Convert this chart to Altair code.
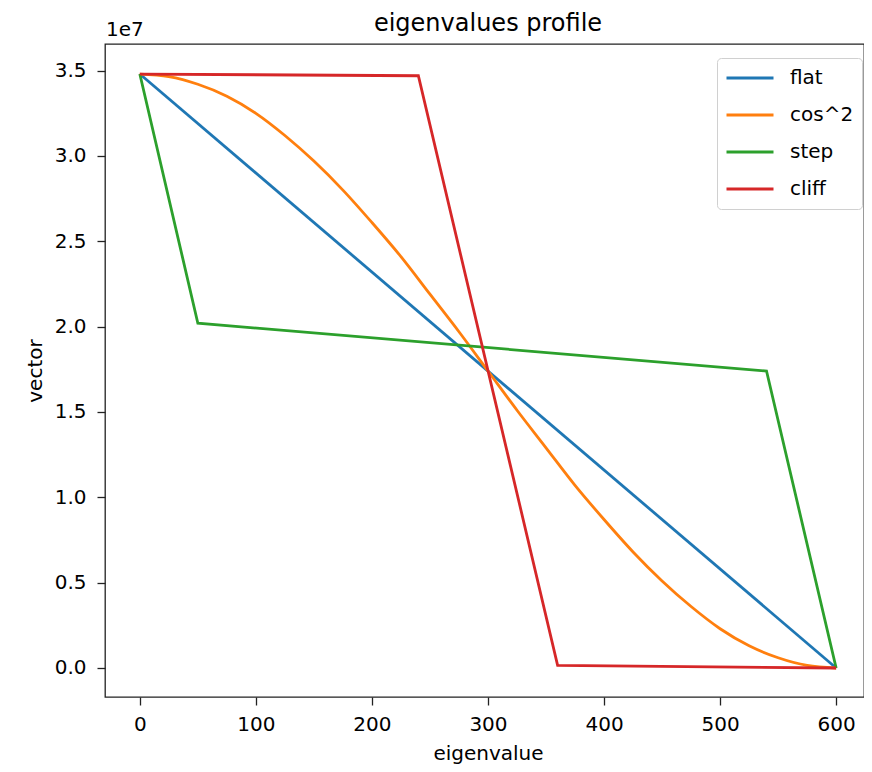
import altair as alt
import pandas as pd

# values in units of 1e7
series_names = ["flat", "cos^2", "step", "cliff"]
colors = ["#1f77b4", "#ff7f0e", "#2ca02c", "#d62728"]

flat_x = [0, 600]
flat_y = [3.48, 0.0]

cos_x = [0, 25, 50, 75, 100, 125, 150, 175, 200, 225, 250, 275, 300,
         325, 350, 375, 400, 425, 450, 475, 500, 525, 550, 575, 600]
cos_y = [3.48, 3.465, 3.42, 3.35, 3.25, 3.12, 2.97, 2.80, 2.61, 2.41, 2.19, 1.97, 1.74,
         1.51, 1.29, 1.07, 0.87, 0.68, 0.51, 0.36, 0.23, 0.13, 0.06, 0.015, 0.0]

step_x = [0, 50, 540, 600]
step_y = [3.48, 2.02, 1.74, 0.0]

cliff_x = [0, 240, 360, 600]
cliff_y = [3.48, 3.47, 0.015, 0.0]

x_ticks = [0, 100, 200, 300, 400, 500, 600]
y_ticks = [0.0, 0.5, 1.0, 1.5, 2.0, 2.5, 3.0, 3.5]

rows = []
for name, xs, ys in [("flat", flat_x, flat_y), ("cos^2", cos_x, cos_y),
                     ("step", step_x, step_y), ("cliff", cliff_x, cliff_y)]:
    for i, (a, b) in enumerate(zip(xs, ys)):
        rows.append({"series": name, "eigenvalue": a, "vector": b, "idx": i})
df = pd.DataFrame(rows)

FONT = "DejaVu Sans"

enc = dict(
    x=alt.X("eigenvalue:Q",
            scale=alt.Scale(domain=[-30, 624], nice=False, zero=False),
            axis=alt.Axis(values=x_ticks, format="d", title="eigenvalue",
                          titleX=383, titleY=62, titleBaseline="alphabetic")),
    y=alt.Y("vector:Q",
            scale=alt.Scale(domain=[-0.17, 3.656], nice=False, zero=False),
            axis=alt.Axis(values=y_ticks, format=".1f", title="vector",
                          titleX=-64, titleBaseline="alphabetic",
                          labelPadding=11)),
    color=alt.Color("series:N",
                    scale=alt.Scale(domain=series_names, range=colors),
                    legend=alt.Legend(orient="none", legendX=612, legendY=14,
                                      title=None, symbolType="stroke",
                                      symbolSize=2209, symbolStrokeWidth=2.8,
                                      labelFontSize=20, labelFont=FONT,
                                      labelColor="#000", labelOffset=15,
                                      clipHeight=24,
                                      padding=8, rowPadding=13,
                                      fillColor="white", strokeColor="#d0d0d0",
                                      cornerRadius=4)),
    order="idx:Q",
)

base = alt.Chart(df)
layers = []
for name in series_names:
    interp = "monotone" if name == "cos^2" else "linear"
    layers.append(
        base.transform_filter(alt.datum.series == name)
        .mark_line(strokeWidth=2.8, interpolate=interp)
        .encode(**enc)
    )

offset_text = alt.Chart(pd.DataFrame({"t": ["1e7"]})).mark_text(
    align="left", baseline="alphabetic", fontSize=20, font=FONT, color="#000"
).encode(text="t:N", x=alt.value(1), y=alt.value(-8))

title_text = alt.Chart(pd.DataFrame({"t": ["eigenvalues profile"]})).mark_text(
    align="center", baseline="alphabetic", fontSize=24, font=FONT, color="#000"
).encode(text="t:N", x=alt.value(383), y=alt.value(-13))

chart = alt.layer(*layers, offset_text, title_text).properties(
    width=759, height=653,
    background="white",
    autosize=alt.AutoSizeParams(type="none"),
    padding={"left": 97, "top": 36, "right": 0, "bottom": 67},
).configure_view(
    stroke="#222", strokeWidth=1.3
).configure_axis(
    domain=False, grid=False, ticks=True, tickSize=8, tickWidth=1.3,
    tickColor="#222", labelFont=FONT, labelFontSize=20, labelColor="#000",
    titleFont=FONT, titleFontSize=20, titleFontWeight="normal", titleColor="#000",
    labelPadding=9
)

chart.save("out.html", embed_options={"renderer": "svg", "actions": False})
